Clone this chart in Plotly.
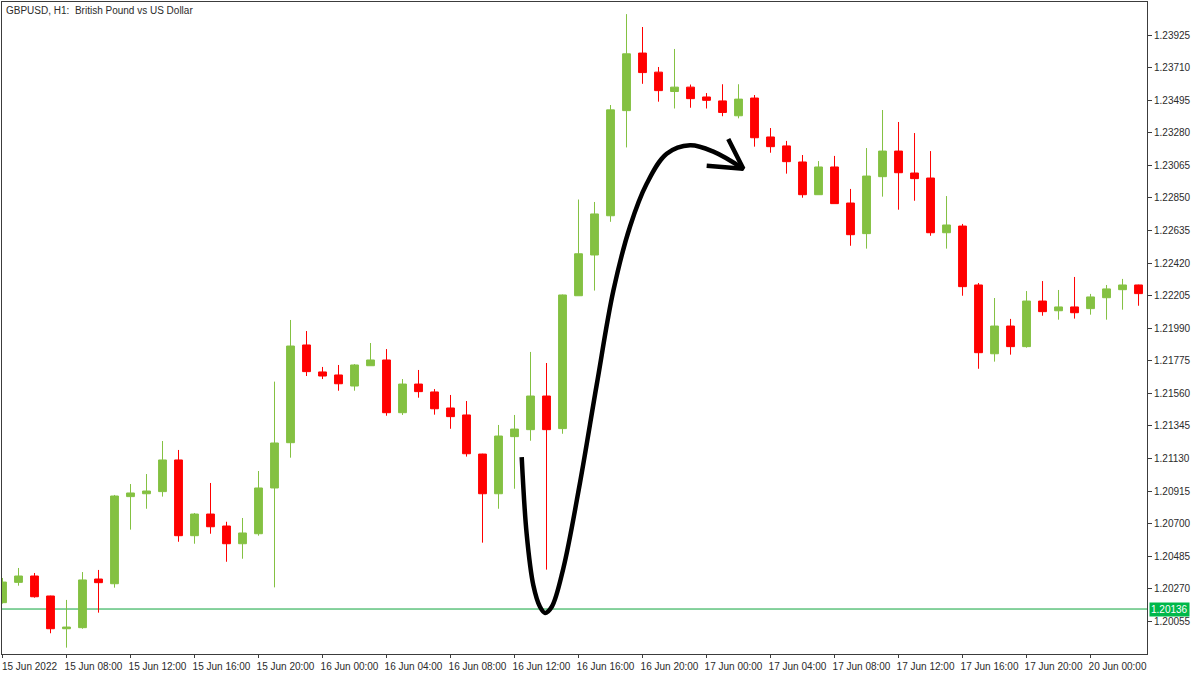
import plotly.graph_objects as go

# ---- data ----
bar_index = list(range(72))  # hourly bars from 15 Jun 04:00 to 20 Jun 03:00

opens = [
    1.20178, 1.20312, 1.20354, 1.20222, 1.20006, 1.20013, 1.20334, 1.20303, 1.20878, 1.20897,
    1.20911, 1.21120, 1.20620, 1.20763, 1.20684, 1.20567, 1.20633, 1.20935, 1.21234, 1.21879,
    1.21701, 1.21681, 1.21608, 1.21742, 1.21780, 1.21432, 1.21621, 1.21569, 1.21463, 1.21417,
    1.21159, 1.20897, 1.21274, 1.21320, 1.21542, 1.21327, 1.22204, 1.22473, 1.22732, 1.23426,
    1.23806, 1.23680, 1.23552, 1.23581, 1.23516, 1.23490, 1.23392, 1.23509, 1.23252, 1.23193,
    1.23087, 1.22871, 1.23054, 1.22816, 1.22614, 1.22990, 1.23159, 1.23014, 1.22981, 1.22620,
    1.22664, 1.22275, 1.21821, 1.22004, 1.21868, 1.22169, 1.22105, 1.22130, 1.22119, 1.22191,
    1.22244, 1.22275]

highs = [
    1.20341, 1.20407, 1.20374, 1.20224, 1.20196, 1.20380, 1.20394, 1.20889, 1.20961, 1.21027,
    1.21245, 1.21186, 1.20770, 1.20968, 1.20712, 1.20737, 1.21047, 1.21637, 1.22044, 1.21971,
    1.21734, 1.21747, 1.21753, 1.21892, 1.21852, 1.21654, 1.21714, 1.21588, 1.21549, 1.21509,
    1.21161, 1.21351, 1.21417, 1.21833, 1.21760, 1.22212, 1.22839, 1.22823, 1.23463, 1.24063,
    1.23978, 1.23714, 1.23833, 1.23598, 1.23542, 1.23600, 1.23600, 1.23529, 1.23311, 1.23226,
    1.23133, 1.23093, 1.23127, 1.22909, 1.23179, 1.23430, 1.23351, 1.23278, 1.23159, 1.22862,
    1.22678, 1.22288, 1.22189, 1.22051, 1.22235, 1.22301, 1.22242, 1.22328, 1.22216, 1.22275,
    1.22315, 1.22277]

lows = [
    1.20172, 1.20290, 1.20211, 1.19976, 1.19881, 1.20006, 1.20112, 1.20277, 1.20660, 1.20798,
    1.20878, 1.20580, 1.20567, 1.20633, 1.20448, 1.20468, 1.20620, 1.20279, 1.21135, 1.21674,
    1.21654, 1.21577, 1.21577, 1.21742, 1.21412, 1.21417, 1.21531, 1.21419, 1.21326, 1.21142,
    1.20574, 1.20798, 1.20930, 1.21247, 1.20396, 1.21293, 1.22204, 1.22238, 1.22692, 1.23183,
    1.23603, 1.23485, 1.23440, 1.23445, 1.23440, 1.23389, 1.23375, 1.23188, 1.23148, 1.23010,
    1.22851, 1.22871, 1.22812, 1.22534, 1.22515, 1.22858, 1.22772, 1.22831, 1.22600, 1.22515,
    1.22204, 1.21722, 1.21769, 1.21815, 1.21861, 1.22072, 1.22046, 1.22053, 1.22079, 1.22046,
    1.22112, 1.22138]

closes = [
    1.20314, 1.20354, 1.20217, 1.20006, 1.20017, 1.20328, 1.20310, 1.20882, 1.20902, 1.20915,
    1.21120, 1.20620, 1.20763, 1.20679, 1.20567, 1.20638, 1.20935, 1.21232, 1.21872, 1.21703,
    1.21674, 1.21623, 1.21747, 1.21780, 1.21432, 1.21621, 1.21571, 1.21458, 1.21406, 1.21161,
    1.20897, 1.21278, 1.21324, 1.21542, 1.21320, 1.22209, 1.22481, 1.22744, 1.23431, 1.23801,
    1.23677, 1.23558, 1.23581, 1.23505, 1.23494, 1.23414, 1.23502, 1.23247, 1.23188, 1.23089,
    1.22871, 1.23054, 1.22812, 1.22607, 1.22994, 1.23159, 1.23016, 1.22977, 1.22620, 1.22671,
    1.22264, 1.21828, 1.22004, 1.21868, 1.22169, 1.22099, 1.22130, 1.22092, 1.22196, 1.22249,
    1.22275, 1.22218]

x_tick_index = [0, 4, 8, 12, 16, 20, 24, 28, 32, 36, 40, 44, 48, 52, 56, 60, 64, 68]
x_tick_labels = [
    "15 Jun 2022", "15 Jun 08:00", "15 Jun 12:00", "15 Jun 16:00", "15 Jun 20:00",
    "16 Jun 00:00", "16 Jun 04:00", "16 Jun 08:00", "16 Jun 12:00", "16 Jun 16:00",
    "16 Jun 20:00", "17 Jun 00:00", "17 Jun 04:00", "17 Jun 08:00", "17 Jun 12:00",
    "17 Jun 16:00", "17 Jun 20:00", "20 Jun 00:00"]

y_tick_values = [1.20055, 1.20270, 1.20485, 1.20700, 1.20915, 1.21130, 1.21345, 1.21560,
                 1.21775, 1.21990, 1.22205, 1.22420, 1.22635, 1.22850, 1.23065, 1.23280,
                 1.23495, 1.23710, 1.23925]
y_tick_labels = [f"{v:.5f}" for v in y_tick_values]

price_line = 1.20136
title_text = "GBPUSD, H1:\u00a0 British Pound vs US Dollar"

# hand-drawn arrow (bar index, price)
arrow_idx = [32.45, 32.76, 33.18, 33.59, 33.91, 34.33, 35.05, 36.09, 37.14, 38.18,
             39.22, 40.26, 41.51, 42.97, 44.43, 46.30]
arrow_price = [1.21138, 1.20631, 1.20291, 1.20151, 1.20110, 1.20151, 1.20404, 1.20968,
               1.21618, 1.22238, 1.22661, 1.22943, 1.23141, 1.23197, 1.23155, 1.23042]
head_idx = [44.01, 46.30, 45.36]
head_price = [1.23062, 1.23042, 1.23239]

# ---- styles ----
GREEN = "#84c142"
RED = "#ff0000"
AXIS = "#3c3c3c"
TEXT = "#2b2b2b"
FONT = "Liberation Sans"

fig = go.Figure()
fig.add_trace(go.Candlestick(
    x=bar_index, open=opens, high=highs, low=lows, close=closes,
    increasing=dict(line=dict(color=GREEN, width=1), fillcolor=GREEN),
    decreasing=dict(line=dict(color=RED, width=1), fillcolor=RED),
    whiskerwidth=0, showlegend=False, hoverinfo="skip",
))
fig.add_trace(go.Scatter(
    x=arrow_idx, y=arrow_price, mode="lines",
    line=dict(color="black", width=4.5, shape="spline", smoothing=1.0),
    showlegend=False, hoverinfo="skip",
))
fig.add_trace(go.Scatter(
    x=head_idx, y=head_price, mode="lines",
    line=dict(color="black", width=4.5),
    showlegend=False, hoverinfo="skip",
))

fig.add_shape(type="line", xref="paper", x0=0, x1=1, yref="y", y0=price_line, y1=price_line,
              line=dict(color="#0fa53c", width=1), layer="below")

fig.add_annotation(xref="paper", x=1, xanchor="left", xshift=2,
                   yref="y", y=price_line, yanchor="middle",
                   text=f"{price_line:.5f}", showarrow=False,
                   font=dict(family=FONT, size=10, color="white"),
                   bgcolor="#00b84a", borderpad=1)

fig.add_annotation(xref="paper", x=0, xanchor="left", xshift=2,
                   yref="paper", y=1, yanchor="top", yshift=-1,
                   text=title_text, showarrow=False,
                   font=dict(family=FONT, size=10, color=TEXT))

fig.update_layout(
    width=1200, height=675,
    margin=dict(l=2, r=53, t=2, b=21),
    paper_bgcolor="white", plot_bgcolor="white",
    font=dict(family=FONT, size=10, color=TEXT),
    showlegend=False,
    boxgap=0.3,
    hovermode=False,
    xaxis=dict(
        range=[-0.03125, 71.53], rangeslider=dict(visible=False),
        showgrid=False, zeroline=False,
        showline=True, mirror=True, linecolor=AXIS, linewidth=1,
        tickmode="array", tickvals=x_tick_index, ticktext=x_tick_labels,
        ticks="outside", ticklen=3, tickcolor=AXIS, tickwidth=1,
        ticklabelshift=27,
        tickfont=dict(family=FONT, size=10, color=TEXT),
    ),
    yaxis=dict(
        range=[1.198391, 1.241430], side="right",
        showgrid=False, zeroline=False,
        showline=True, mirror=True, linecolor=AXIS, linewidth=1,
        tickmode="array", tickvals=y_tick_values, ticktext=y_tick_labels,
        ticks="outside", ticklen=4, tickcolor=AXIS, tickwidth=1,
        tickfont=dict(family=FONT, size=10, color=TEXT),
    ),
)

fig.write_html(
    "out.html",
    config={"displayModeBar": False},
    post_script="document.body.style.margin='0';document.body.style.overflow='hidden';",
)
